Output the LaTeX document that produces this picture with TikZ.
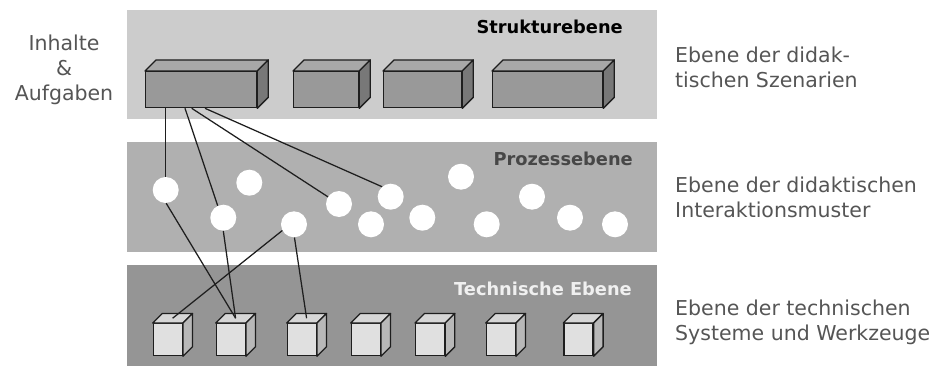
\documentclass[tikz,border=0pt]{standalone}
\usepackage{fontspec}
\setmainfont{DejaVu Sans}
\usetikzlibrary{calc}
\definecolor{bandA}{HTML}{CCCCCC}
\definecolor{bandB}{HTML}{B0B0B0}
\definecolor{bandC}{HTML}{959595}
\definecolor{txtgray}{HTML}{555555}
\definecolor{linec}{HTML}{1E1E1E}
\tikzset{
  band/.style={fill=#1, draw=none, inner sep=0pt, anchor=north west},
  kSfront/.style={draw=linec, fill=black!40, line width=1.3pt, inner sep=0pt},
  kStop/.style={draw=linec, fill=black!34, line width=1.3pt, line join=round},
  kSside/.style={draw=linec, fill=black!53, line width=1.3pt, line join=round},
  kTfront/.style={draw=linec, fill=black!12, line width=1.3pt, inner sep=0pt},
  kTtop/.style={draw=linec, fill=black!16, line width=1.3pt, line join=round},
  kTside/.style={draw=linec, fill=black!28, line width=1.3pt, line join=round},
  kreis/.style={circle, fill=white, draw=none, minimum size=26pt, inner sep=0pt},
  conn/.style={draw=linec, line width=1.25pt},
  lbl/.style={text=txtgray, font=\fontsize{20.5}{25}\selectfont, inner sep=0pt},
  title/.style={font=\bfseries\fontsize{17.8}{20}\selectfont, inner sep=0pt, anchor=base east},
}
\newcommand\kiste[7]{%
  \node[k#7front, minimum width=#4pt, minimum height=#5pt, anchor=north west] (#1) at (#2,#3) {};
  \filldraw[k#7top] (#1.north west) -- ++(#6,-#6) -- ($(#1.north east)+(#6,-#6)$) -- (#1.north east) -- cycle;
  \filldraw[k#7side] (#1.north east) -- ++(#6,-#6) -- ($(#1.south east)+(#6,-#6)$) -- (#1.south east) -- cycle;
}
\begin{document}
\begin{tikzpicture}[x=1pt,y=-1pt]
\useasboundingbox (0,0) rectangle (945,369);
% bands
\node[band=bandA, minimum width=530pt, minimum height=109pt] (bandS) at (127,10) {};
\node[band=bandB, minimum width=530pt, minimum height=109.5pt] (bandP) at (127,142) {};
\node[band=bandC, minimum width=530pt, minimum height=101pt] (bandT) at (127,265) {};
\node[title, text=black] (tS) at (623,33.3) {Strukturebene};
\node[title, text=black!72] (tP) at (633,165) {Prozessebene};
\node[title, text=black!6] (tT) at (632,295) {Technische Ebene};
% structure boxes
\kiste{b1}{145}{71}{111}{36}{11}{S}
\kiste{b2}{293}{71}{65}{36}{11}{S}
\kiste{b3}{383}{71}{78}{36}{11}{S}
\kiste{b4}{492}{71}{110}{36}{11}{S}
% cubes
\kiste{k1}{152.7}{323}{29}{32}{9.5}{T}
\kiste{k2}{215.7}{323}{29}{32}{9.5}{T}
\kiste{k3}{286.7}{323}{29}{32}{9.5}{T}
\kiste{k4}{350.7}{323}{29}{32}{9.5}{T}
\kiste{k5}{415}{323}{29}{32}{9.5}{T}
\kiste{k6}{485.7}{323}{29}{32}{9.5}{T}
\kiste{k7}{563.3}{323}{29}{32}{9.5}{T}
% circles
\node[kreis] (c1) at (165.7,190) {};
\node[kreis] (c2) at (249.3,182.7) {};
\node[kreis] (c3) at (223.3,217.7) {};
\node[kreis] (c4) at (294,224.3) {};
\node[kreis] (c5) at (339,204) {};
\node[kreis] (c6) at (371,224.3) {};
\node[kreis] (c7) at (390.7,196.7) {};
\node[kreis] (c8) at (422.3,217.7) {};
\node[kreis] (c9) at (461,176.7) {};
\node[kreis] (c10) at (486.7,224.3) {};
\node[kreis] (c11) at (532,196.7) {};
\node[kreis] (c12) at (570,217.7) {};
\node[kreis] (c13) at (615,224.3) {};
% connection points
\coordinate (s1) at ($(b1.south west)+(20.7,0)$);
\coordinate (s2) at ($(b1.south west)+(40,0)$);
\coordinate (s3) at ($(b1.south west)+(46.7,0)$);
\coordinate (s4) at ($(b1.south west)+(60,0)$);
\coordinate (t1) at ($(k1.north)+(4.75,-4.75)$);
\coordinate (t2) at ($(k2.north)+(4.75,-4.75)$);
\coordinate (t3) at ($(k3.north)+(4.75,-4.75)$);
% connectors
\draw[conn] (s1) -- (c1.north);
\draw[conn] (s2) -- (c3.115);
\draw[conn] (s3) -- (c5.147);
\draw[conn] (s4) -- (c7.131);
\draw[conn] (c1.272) -- (t2);
\draw[conn] (c3.south) -- (t2);
\draw[conn] (c4.208) -- (t1);
\draw[conn] (c4.272) -- (t3);
% side texts
\node[lbl, anchor=base, align=center] (inh) at (64,100) {Inhalte\\\&\\Aufgaben};
\node[lbl, anchor=base west, align=left] (r1) at (675,87.3) {Ebene der didak-\\tischen Szenarien};
\node[lbl, anchor=base west, align=left] (r2) at (675,217.3) {Ebene der didaktischen\\Interaktionsmuster};
\node[lbl, anchor=base west, align=left] (r3) at (675,340) {Ebene der technischen\\Systeme und Werkzeuge};
\end{tikzpicture}
\end{document}
